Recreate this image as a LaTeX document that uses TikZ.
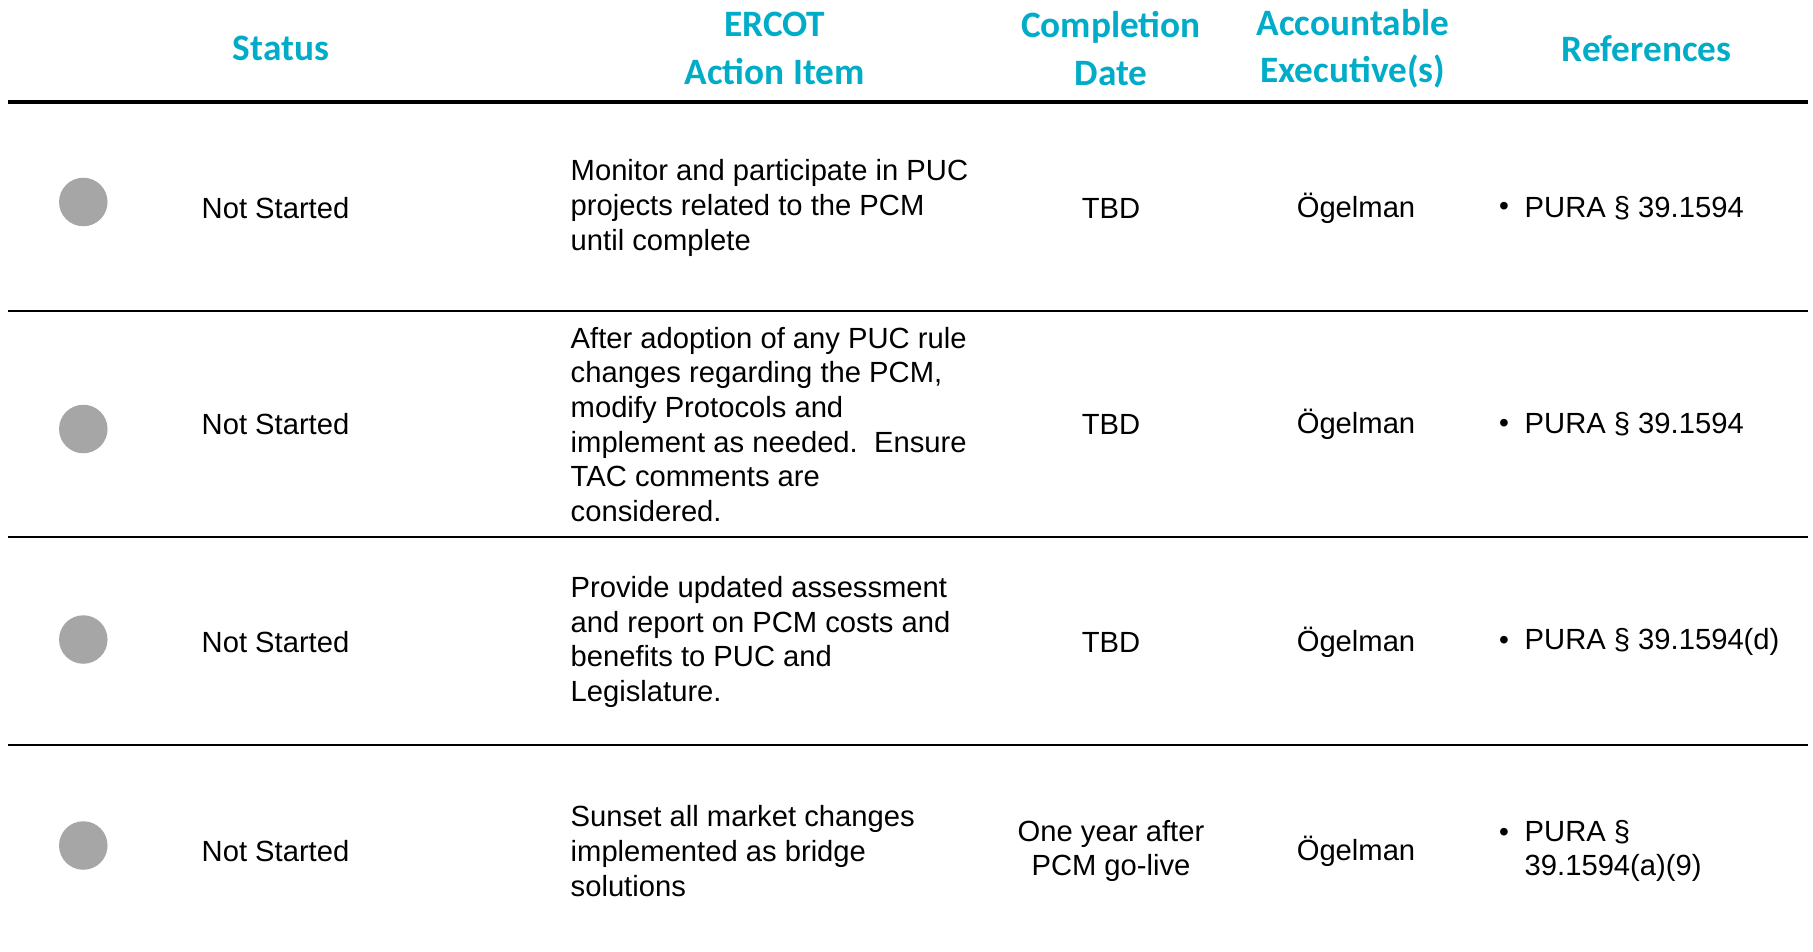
\documentclass[tikz,border=0pt]{standalone}
\usepackage{fontspec}
\setmainfont{Liberation Sans}
\newfontfamily\hdfont{Carlito}
\definecolor{hdteal}{RGB}{0,172,200}
\definecolor{dotgray}{RGB}{166,166,166}
\begin{document}
\begin{tikzpicture}[x=0.01cm,y=-0.01cm,
  hd/.style={font=\hdfont\bfseries\fontsize{10.6}{13.5}\selectfont, text=hdteal, align=center, inner sep=0pt},
  body/.style={font=\fontsize{8.3}{9.85}\selectfont, inner sep=0pt},
  bodyl/.style={body, anchor=west, align=left},
  bodyc/.style={body, align=center},
  bul/.style={font=\fontsize{8}{9}\selectfont, inner sep=0pt},
  dot/.style={circle, fill=dotgray, minimum size=13.8pt, inner sep=0pt},
  rule/.style={line width=0.75pt, black},
  hrule/.style={line width=0.95pt, black}]
\useasboundingbox (0,0) rectangle (1813,951);
% header
\node[hd] (hs) at (281,48.6) {Status};
\node[hd] (ha) at (774.7,48.6) {ERCOT\\Action Item};
\node[hd] (hc) at (1111,48.6) {Completion\\Date};
\node[hd] (hx) at (1352.8,48.6) {Accountable\\Executive(s)};
\node[hd] (hr) at (1646.5,48.6) {References};
% rules
\coordinate (l0a) at (8,102); \coordinate (l0b) at (1808,102);
\coordinate (l1a) at (8,311); \coordinate (l1b) at (1808,311);
\coordinate (l2a) at (8,537); \coordinate (l2b) at (1808,537);
\coordinate (l3a) at (8,745); \coordinate (l3b) at (1808,745);
\draw[hrule] (l0a) -- (l0b);
\draw[rule] (l1a) -- (l1b);
\draw[rule] (l2a) -- (l2b);
\draw[rule] (l3a) -- (l3b);
% row 1
\node[dot] (d1) at (83.3,202) {};
\node[bodyl] (s1) at (201,208) {Not Started};
\node[bodyl] (a1) at (570,208) {Monitor and participate in PUC\\projects related to the PCM\\until complete};
\node[bodyc] (c1) at (1111,208) {TBD};
\node[bodyc] (e1) at (1356,208) {Ögelman};
\node[bul] (b1) at (1504,209) {•};
\node[bodyl] (r1) at (1524,208) {PURA § 39.1594};
% row 2
\node[dot] (d2) at (83.3,429) {};
\node[bodyl] (s2) at (201,424.5) {Not Started};
\node[bodyl] (a2) at (570,424.5) {After adoption of any PUC rule\\changes regarding the PCM,\\modify Protocols and\\implement as needed.\ \ Ensure\\TAC comments are\\considered.};
\node[bodyc] (c2) at (1111,424.5) {TBD};
\node[bodyc] (e2) at (1356,424.5) {Ögelman};
\node[bul] (b2) at (1504,425.5) {•};
\node[bodyl] (r2) at (1524,424.5) {PURA § 39.1594};
% row 3
\node[dot] (d3) at (83.3,639.5) {};
\node[bodyl] (s3) at (201,642) {Not Started};
\node[bodyl] (a3) at (570,642) {Provide updated assessment\\and report on PCM costs and\\benefits to PUC and\\Legislature.};
\node[bodyc] (c3) at (1111,642) {TBD};
\node[bodyc] (e3) at (1356,642) {Ögelman};
\node[bul] (b3) at (1504,643) {•};
\node[bodyl] (r3) at (1524,642) {PURA § 39.1594(d)};
% row 4
\node[dot] (d4) at (83.3,845.5) {};
\node[bodyl] (s4) at (201,851) {Not Started};
\node[bodyl] (a4) at (570,851) {Sunset all market changes\\implemented as bridge\\solutions};
\node[bodyc] (c4) at (1111,851) {One year after\\PCM go-live};
\node[bodyc] (e4) at (1356,851) {Ögelman};
\node[bul] (b4) at (1504,835) {•};
\node[bodyl] (r4) at (1524,851) {PURA §\\39.1594(a)(9)};
\end{tikzpicture}
\end{document}
